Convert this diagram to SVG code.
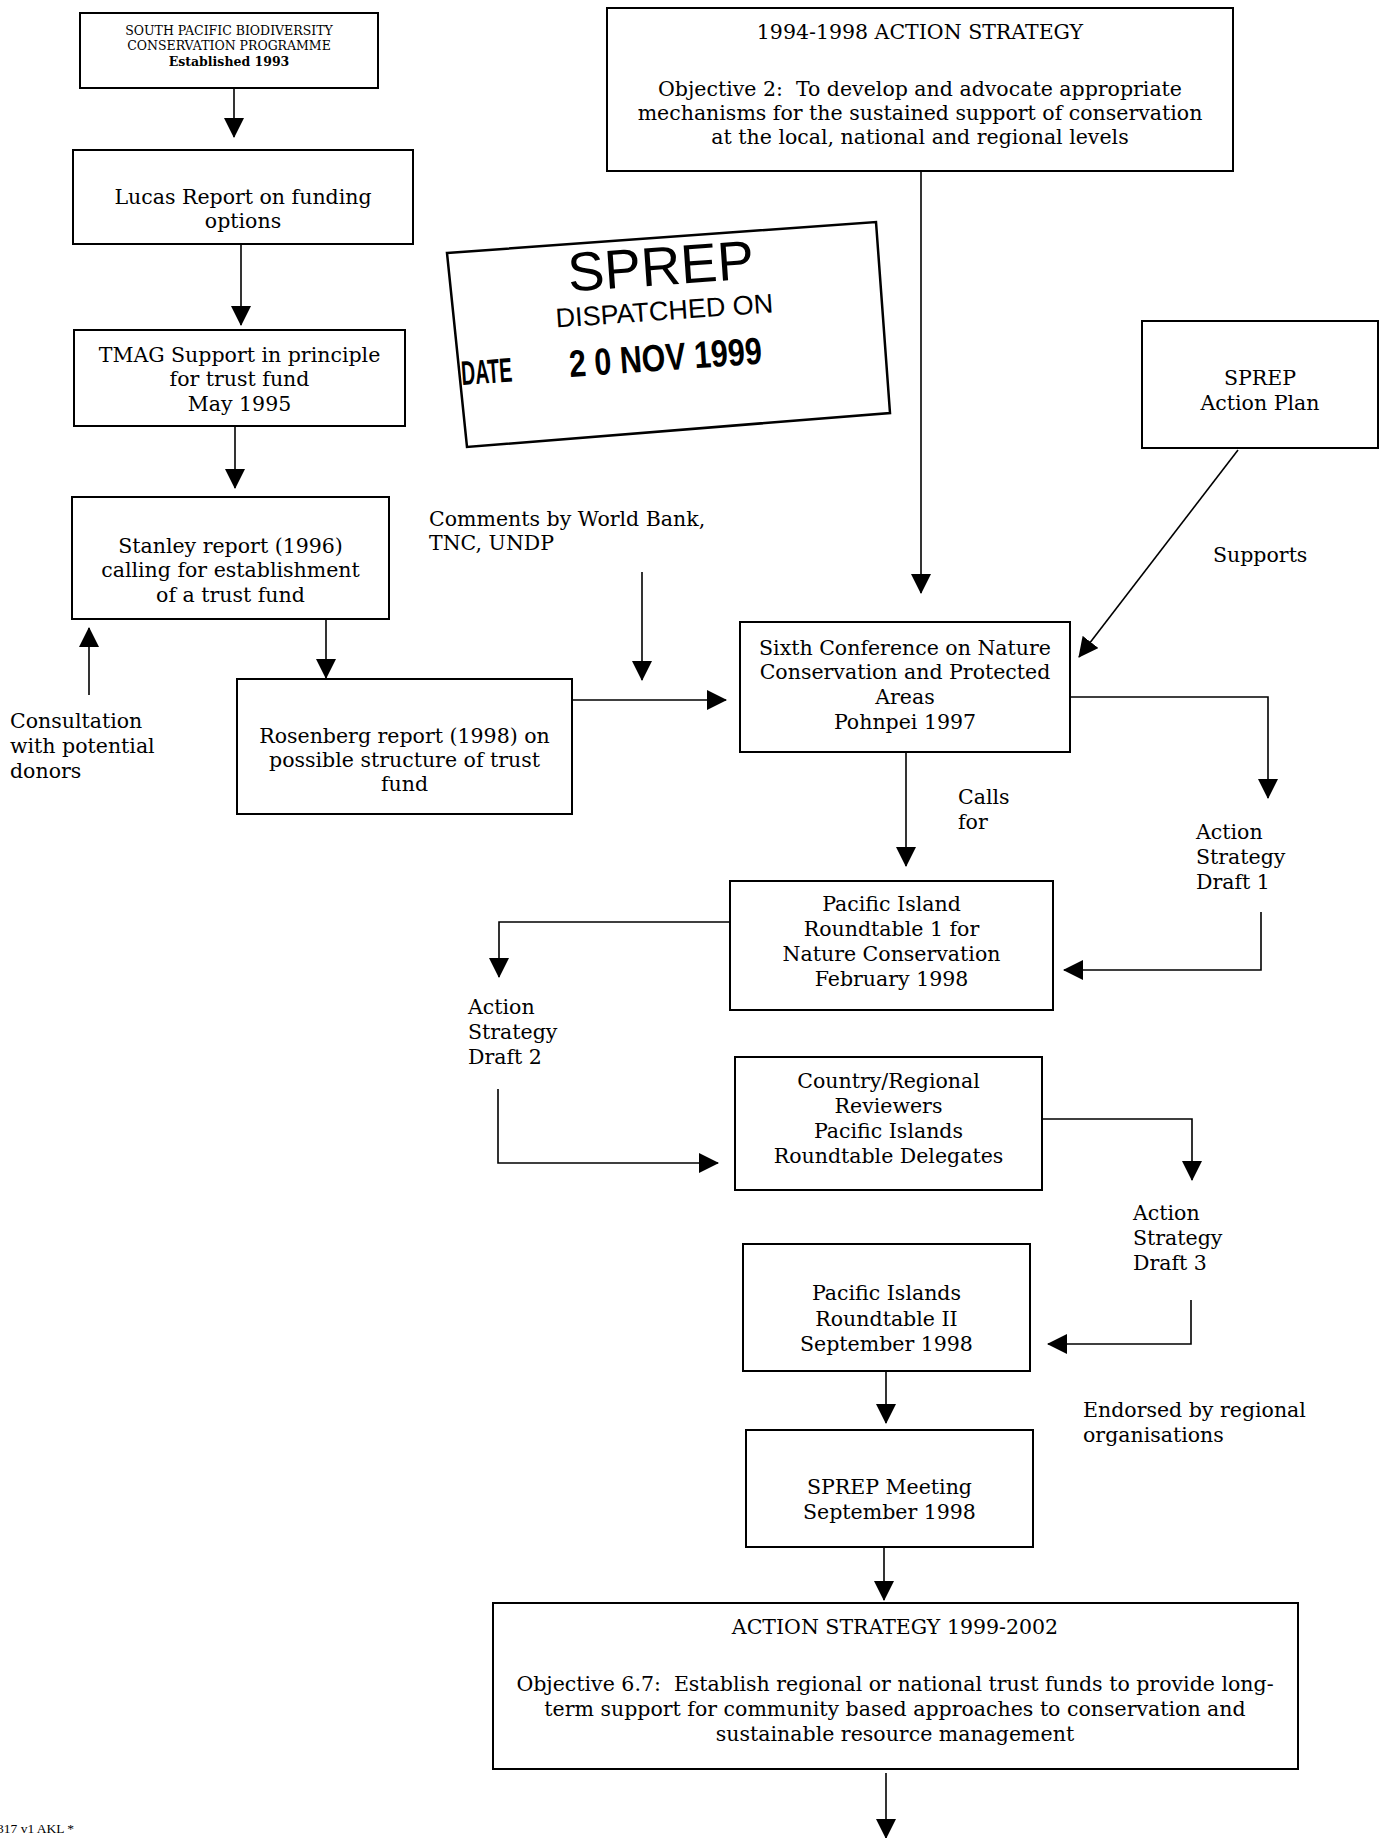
<svg xmlns="http://www.w3.org/2000/svg" width="1389" height="1838" viewBox="0 0 1389 1838">
<style>
.bg{fill:#fff}
.box{fill:#fff;stroke:#000;stroke-width:2}
.t{font-family:"DejaVu Serif","Liberation Serif",serif;font-size:20.5px;fill:#000}
.c{text-anchor:middle}
.sm{font-size:12.5px}
.conn{fill:none;stroke:#000;stroke-width:1.6;marker-end:url(#ah)}
.st{font-family:"Liberation Sans",Arial,sans-serif;fill:#000}
.foot{font-family:"Liberation Serif","Times New Roman",serif;font-size:13.5px;fill:#000}
</style>
<defs>
<marker id="ah" markerUnits="userSpaceOnUse" markerWidth="20" markerHeight="20" refX="19" refY="10" orient="auto">
<path d="M0,0 L20,10 L0,20 z" fill="#000"/>
</marker>
</defs>
<rect class="bg" x="0" y="0" width="1389" height="1838"/>

<g id="connectors">
<path class="conn" d="M234,88 V137"/>
<path class="conn" d="M241,244 V325"/>
<path class="conn" d="M235,426 V488"/>
<path class="conn" d="M326,619 V678"/>
<path class="conn" d="M89,695 V628"/>
<path class="conn" d="M642,572 V680"/>
<path class="conn" d="M572,700 H726"/>
<path class="conn" d="M921,171 V593"/>
<path class="conn" d="M1238,450 L1079,657"/>
<path class="conn" d="M1070,697 H1268 V798"/>
<path class="conn" d="M906,752 V866"/>
<path class="conn" d="M1261,912 V970 H1064"/>
<path class="conn" d="M730,922 H499 V977"/>
<path class="conn" d="M498,1089 V1163 H718"/>
<path class="conn" d="M1042,1119 H1192 V1180"/>
<path class="conn" d="M1191,1300 V1344 H1048"/>
<path class="conn" d="M886,1371 V1423"/>
<path class="conn" d="M884,1547 V1600"/>
<path class="conn" d="M886,1773 V1838"/>
</g>

<g id="n_spbcp">
<rect class="box" x="80" y="13" width="298" height="75"/>
<text class="t c sm" x="229" y="35">SOUTH PACIFIC BIODIVERSITY</text>
<text class="t c sm" x="229" y="50">CONSERVATION PROGRAMME</text>
<text class="t c sm" x="229" y="66" font-weight="bold">Established 1993</text>
</g>

<g id="n_lucas">
<rect class="box" x="73" y="150" width="340" height="94"/>
<text class="t c" x="243" y="204">Lucas Report on funding</text>
<text class="t c" x="243" y="228">options</text>
</g>

<g id="n_tmag">
<rect class="box" x="74" y="330" width="331" height="96"/>
<text class="t c" x="239.5" y="362">TMAG Support in principle</text>
<text class="t c" x="239.5" y="386">for trust fund</text>
<text class="t c" x="239.5" y="411">May 1995</text>
</g>

<g id="n_stanley">
<rect class="box" x="72" y="497" width="317" height="122"/>
<text class="t c" x="230.5" y="553">Stanley report (1996)</text>
<text class="t c" x="230.5" y="577">calling for establishment</text>
<text class="t c" x="230.5" y="602">of a trust fund</text>
</g>

<g id="n_rosenberg">
<rect class="box" x="237" y="679" width="335" height="135"/>
<text class="t c" x="404.5" y="743">Rosenberg report (1998) on</text>
<text class="t c" x="404.5" y="767">possible structure of trust</text>
<text class="t c" x="404.5" y="791">fund</text>
</g>

<g id="l_consultation">
<text class="t" x="10" y="728">Consultation</text>
<text class="t" x="10" y="753">with potential</text>
<text class="t" x="10" y="778">donors</text>
</g>

<g id="l_comments">
<text class="t" x="429" y="526">Comments by World Bank,</text>
<text class="t" x="429" y="550">TNC, UNDP</text>
</g>

<g id="n_strategy9498">
<rect class="box" x="607" y="8" width="626" height="163"/>
<text class="t c" x="920" y="39">1994-1998 ACTION STRATEGY</text>
<text class="t c" x="920" y="96" xml:space="preserve">Objective 2:  To develop and advocate appropriate</text>
<text class="t c" x="920" y="120">mechanisms for the sustained support of conservation</text>
<text class="t c" x="920" y="144">at the local, national and regional levels</text>
</g>

<g id="stamp">
<path d="M447,253 L876,222 L890,413 L467,447 Z" fill="none" stroke="#000" stroke-width="2.5"/>
<text class="st" x="662" y="285" font-size="55" text-anchor="middle" transform="rotate(-4 662 285)">SPREP</text>
<text class="st" x="665" y="320" font-size="27" text-anchor="middle" transform="rotate(-4 665 320)">DISPATCHED ON</text>
<text class="st" x="462" y="385" font-size="34" font-weight="bold" textLength="51" lengthAdjust="spacingAndGlyphs" transform="rotate(-4 462 385)">DATE</text>
<text class="st" x="570" y="377" font-size="38" font-weight="bold" textLength="193" lengthAdjust="spacingAndGlyphs" transform="rotate(-4 570 377)">2 0 NOV 1999</text>
</g>

<g id="n_sprep_ap">
<rect class="box" x="1142" y="321" width="236" height="127"/>
<text class="t c" x="1260" y="385">SPREP</text>
<text class="t c" x="1260" y="410">Action Plan</text>
</g>

<g id="l_supports">
<text class="t" x="1213" y="562">Supports</text>
</g>

<g id="n_sixth">
<rect class="box" x="740" y="622" width="330" height="130"/>
<text class="t c" x="905" y="655">Sixth Conference on Nature</text>
<text class="t c" x="905" y="679">Conservation and Protected</text>
<text class="t c" x="905" y="704">Areas</text>
<text class="t c" x="905" y="729">Pohnpei 1997</text>
</g>

<g id="l_calls">
<text class="t" x="958" y="804">Calls</text>
<text class="t" x="958" y="829">for</text>
</g>

<g id="l_draft1">
<text class="t" x="1196" y="839">Action</text>
<text class="t" x="1196" y="864">Strategy</text>
<text class="t" x="1196" y="889">Draft 1</text>
</g>

<g id="n_roundtable1">
<rect class="box" x="730" y="881" width="323" height="129"/>
<text class="t c" x="891.5" y="911">Pacific Island</text>
<text class="t c" x="891.5" y="936">Roundtable 1 for</text>
<text class="t c" x="891.5" y="961">Nature Conservation</text>
<text class="t c" x="891.5" y="986">February 1998</text>
</g>

<g id="l_draft2">
<text class="t" x="468" y="1014">Action</text>
<text class="t" x="468" y="1039">Strategy</text>
<text class="t" x="468" y="1064">Draft 2</text>
</g>

<g id="n_reviewers">
<rect class="box" x="735" y="1057" width="307" height="133"/>
<text class="t c" x="888.5" y="1088">Country/Regional</text>
<text class="t c" x="888.5" y="1113">Reviewers</text>
<text class="t c" x="888.5" y="1138">Pacific Islands</text>
<text class="t c" x="888.5" y="1163">Roundtable Delegates</text>
</g>

<g id="l_draft3">
<text class="t" x="1133" y="1220">Action</text>
<text class="t" x="1133" y="1245">Strategy</text>
<text class="t" x="1133" y="1270">Draft 3</text>
</g>

<g id="n_roundtable2">
<rect class="box" x="743" y="1244" width="287" height="127"/>
<text class="t c" x="886.5" y="1300">Pacific Islands</text>
<text class="t c" x="886.5" y="1326">Roundtable II</text>
<text class="t c" x="886.5" y="1351">September 1998</text>
</g>

<g id="l_endorsed">
<text class="t" x="1083" y="1417">Endorsed by regional</text>
<text class="t" x="1083" y="1442">organisations</text>
</g>

<g id="n_sprep_meeting">
<rect class="box" x="746" y="1430" width="287" height="117"/>
<text class="t c" x="889.5" y="1494">SPREP Meeting</text>
<text class="t c" x="889.5" y="1519">September 1998</text>
</g>

<g id="n_strategy9902">
<rect class="box" x="493" y="1603" width="805" height="166"/>
<text class="t c" x="895" y="1634">ACTION STRATEGY 1999-2002</text>
<text class="t c" x="895" y="1691" xml:space="preserve">Objective 6.7:  Establish regional or national trust funds to provide long-</text>
<text class="t c" x="895" y="1716">term support for community based approaches to conservation and</text>
<text class="t c" x="895" y="1741">sustainable resource management</text>
</g>

<text class="foot" x="-3" y="1833">317 v1 AKL *</text>
</svg>
